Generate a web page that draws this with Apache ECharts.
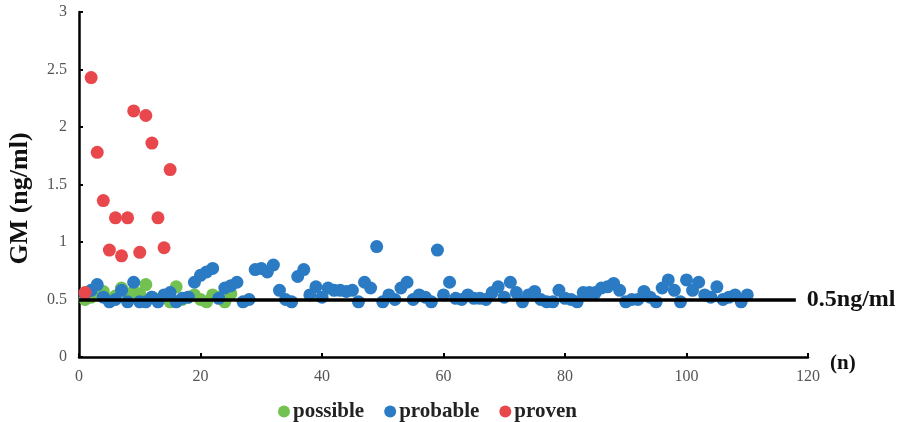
<!DOCTYPE html>
<html>
<head>
<meta charset="utf-8">
<script src="https://cdn.jsdelivr.net/npm/echarts@6/dist/echarts.min.js"></script>
<style>
html, body { margin: 0; padding: 0; background: #fff; }
#main { width: 905px; height: 422px; }
</style>
</head>
<body>
<div id="main"></div>
<script>
// GM values per case (n = 1, 2, 3 ...)
var possibleGM = [0.50, 0.52, 0.55, 0.57, 0.50, 0.53, 0.60, 0.55, 0.57, 0.55,
	0.63, 0.52, 0.50, 0.52, 0.48, 0.61, 0.50, 0.52, 0.54, 0.50,
	0.48, 0.54, 0.52, 0.48, 0.55];
var probableGM = [0.55, 0.58, 0.63, 0.52, 0.48, 0.50, 0.58, 0.48, 0.65, 0.48,
	0.48, 0.52, 0.48, 0.54, 0.56, 0.48, 0.51, 0.52, 0.65, 0.71,
	0.74, 0.77, 0.51, 0.60, 0.62, 0.65, 0.48, 0.50, 0.76, 0.77,
	0.74, 0.80, 0.58, 0.50, 0.48, 0.70, 0.76, 0.54, 0.61, 0.52,
	0.60, 0.58, 0.58, 0.57, 0.58, 0.48, 0.65, 0.60, 0.96, 0.48,
	0.54, 0.50, 0.60, 0.65, 0.50, 0.54, 0.52, 0.48, 0.93, 0.54,
	0.65, 0.51, 0.50, 0.54, 0.51, 0.51, 0.50, 0.56, 0.61, 0.52,
	0.65, 0.56, 0.48, 0.54, 0.57, 0.50, 0.48, 0.48, 0.58, 0.51,
	0.50, 0.48, 0.56, 0.56, 0.56, 0.60, 0.61, 0.64, 0.58, 0.48,
	0.50, 0.50, 0.57, 0.52, 0.48, 0.60, 0.67, 0.58, 0.48, 0.67,
	0.58, 0.65, 0.54, 0.52, 0.61, 0.50, 0.52, 0.54, 0.48, 0.54];
var provenGM = [0.56, 2.43, 1.78, 1.36, 0.93, 1.21, 0.88, 1.21, 2.14, 0.91,
	2.10, 1.86, 1.21, 0.95, 1.63];
var cutoff = 0.5;

function toPoints(arr) {
	var out = [];
	for (var i = 0; i < arr.length; i++) out.push([i + 1, arr[i]]);
	return out;
}

var serif = '"Liberation Serif", "DejaVu Serif", serif';
var myChart = echarts.init(document.getElementById('main'));
var option = {
	animation: false,
	grid: { left: 79, top: 12, width: 729, height: 345, containLabel: false, outerBoundsMode: 'none' },
	legend: {
		top: 396,
		left: 273,
		itemGap: 20,
		itemWidth: 12,
		itemHeight: 12,
		icon: 'circle',
		textStyle: { fontFamily: serif, fontWeight: 'bold', fontSize: 21, color: '#222', padding: [0, 0, 0, -2] },
		data: ['possible', 'probable', 'proven']
	},
	xAxis: {
		type: 'value',
		min: 0, max: 120, interval: 20,
		name: '(n)',
		nameLocation: 'end',
		nameGap: 22,
		nameTextStyle: { fontFamily: serif, fontWeight: 'bold', fontSize: 21, color: '#111', verticalAlign: 'top', padding: [-4, 0, 0, 0] },
		axisLine: { lineStyle: { color: '#000', width: 2.5 } },
		axisTick: { inside: true, length: 4, lineStyle: { color: '#000', width: 2 } },
		axisLabel: { fontFamily: serif, fontSize: 16, color: '#555', margin: 12 },
		splitLine: { show: false }
	},
	yAxis: {
		type: 'value',
		min: 0, max: 3, interval: 0.5,
		name: 'GM (ng/ml)',
		nameLocation: 'middle',
		nameGap: 46,
		nameTextStyle: { fontFamily: serif, fontWeight: 'bold', fontSize: 26, color: '#111', padding: [0, 28, 0, 0] },
		axisLine: { show: true, lineStyle: { color: '#000', width: 2.5 } },
		axisTick: { show: true, inside: true, length: 4, lineStyle: { color: '#000', width: 2 } },
		axisLabel: { fontFamily: serif, fontSize: 16, color: '#555', margin: 12 },
		splitLine: { show: false }
	},
	series: [{
		name: 'possible',
		type: 'scatter',
		symbolSize: 13,
		itemStyle: { color: '#72c151', opacity: 1 },
		data: toPoints(possibleGM),
		markLine: {
			silent: true,
			symbol: 'none',
			lineStyle: { color: '#000', width: 3.5, type: 'solid' },
			label: {
				show: true,
				position: 'end',
				formatter: '0.5ng/ml',
				distance: 11,
				fontFamily: serif,
				fontWeight: 'bold',
				fontSize: 24,
				color: '#111'
			},
			data: [[{ coord: [0, cutoff] }, { coord: [118, cutoff] }]],
			z: 10
		}
	}, {
		name: 'probable',
		type: 'scatter',
		symbolSize: 13,
		itemStyle: { color: '#2b7bc4', opacity: 1 },
		data: toPoints(probableGM)
	}, {
		name: 'proven',
		type: 'scatter',
		symbolSize: 13,
		itemStyle: { color: '#e8484c', opacity: 1 },
		data: toPoints(provenGM)
	}]
};
myChart.setOption(option);
</script>
</body>
</html>
